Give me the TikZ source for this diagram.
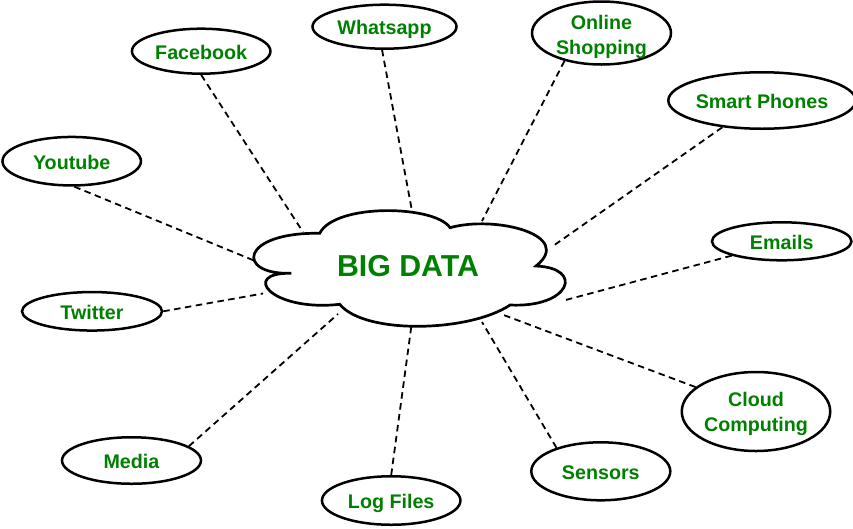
\documentclass[tikz,border=0pt]{standalone}
\usepackage{fontspec}
\setmainfont{Liberation Sans}
\usetikzlibrary{shapes.geometric}
\definecolor{txtgreen}{RGB}{0,128,0}
\newcommand{\twolines}[2]{\begin{tabular}[b]{@{}c@{}}#1\\#2\end{tabular}}
\begin{document}
\begin{tikzpicture}[x=1pt,y=-1pt,
  leaf/.style={ellipse,draw,line width=2.5pt,inner sep=0pt,text=txtgreen,
    font=\bfseries\fontsize{19.7}{25}\selectfont,text height=16.2pt,text depth=0pt},
  link/.style={line width=1.8pt,dash pattern=on 6.5pt off 4.5pt},
  cloudline/.style={line width=2.7pt,fill=white}]
\fill[white] (0,0) rectangle (853,528);
\useasboundingbox (0,0) rectangle (853,528);

% leaf nodes
\node[leaf,minimum width=138.5pt,minimum height=45pt]   (fb) at (201.2,51.2)  {Facebook};
\node[leaf,minimum width=144pt,minimum height=44pt]     (wa) at (384.5,26.7)  {Whatsapp};
\node[leaf,minimum width=139pt,minimum height=63pt,text height=42.6pt] (os) at (601.5,33) {\twolines{Online}{Shopping}};
\node[leaf,minimum width=159pt,minimum height=56.5pt]   (sp) at (762,100.5)   {Smart Phones};
\node[leaf,minimum width=138.5pt,minimum height=48.5pt] (yt) at (71.7,161.2)  {Youtube};
\node[leaf,minimum width=140pt,minimum height=38.5pt]   (tw) at (92,311.3)    {Twitter};
\node[leaf,minimum width=139.5pt,minimum height=38pt]   (em) at (781.7,241.3) {Emails};
\node[leaf,minimum width=148.5pt,minimum height=79pt,text height=40.4pt] (cc) at (756,411.5) {\twolines{Cloud}{Computing}};
\node[leaf,minimum width=139pt,minimum height=46.5pt]   (me) at (131.5,460.5) {Media};
\node[leaf,minimum width=138.5pt,minimum height=48.5pt] (lf) at (391.2,500.5) {Log Files};
\node[leaf,minimum width=139pt,minimum height=58pt]     (se) at (600.8,471.3) {Sensors};

% cloud outline
\draw[cloudline] (319.7,233.3)
  .. controls (240,232) and (235,275) .. (291.3,273.3)
  .. controls (240,272) and (270,312) .. (339.7,304.3)
  .. controls (365,335) and (470,332) .. (510,305)
  .. controls (570,308) and (585,268) .. (536,266)
  .. controls (575,235) and (495,215) .. (450,227.7)
  .. controls (435,205) and (335,203) .. (319.7,233.3) -- cycle;
\node[text=txtgreen,font=\bfseries\fontsize{30.3}{36}\selectfont,inner sep=0pt] (big) at (408,266) {BIG DATA};

% attachment points on the cloud
\coordinate (cfb) at (303,232);
\coordinate (cwa) at (412,211);
\coordinate (cos) at (482,221);
\coordinate (csp) at (553,246);
\coordinate (cem) at (562,301);
\coordinate (ccc) at (501,314);
\coordinate (cse) at (482,322);
\coordinate (clf) at (411.5,325);
\coordinate (cme) at (338,314);
\coordinate (ctw) at (263,293.5);
\coordinate (cyt) at (254,260.5);

% connectors
\draw[link] (fb.south) -- (cfb);
\draw[link] (wa.264) -- (cwa);
\draw[link] (os.217) -- (cos);
\draw[link] (sp.214) -- (csp);
\draw[link] (em.196) -- (cem);
\draw[link] (cc.158) -- (ccc);
\draw[link] (se.152) -- (cse);
\draw[link] (lf.north) -- (clf);
\draw[link] (me.14) -- (cme);
\draw[link] (tw.east) -- (ctw);
\draw[link] (yt.276) -- (cyt);
\end{tikzpicture}
\end{document}
